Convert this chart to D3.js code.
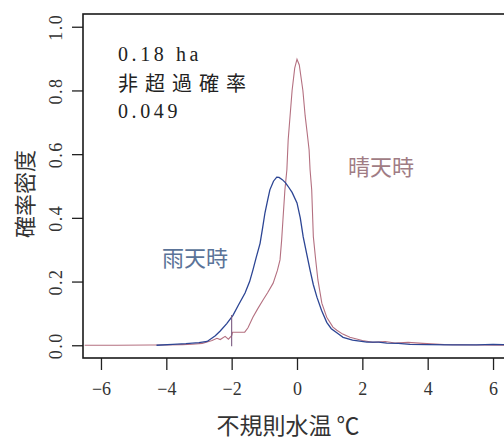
<!DOCTYPE html>
<meta charset="utf-8">
<script src="https://d3js.org/d3.v7.min.js"></script>
<style>
  body { margin: 0; background: #fff; }
  text { font-family: "Liberation Serif", "Noto Sans CJK JP", serif; }
  .cjk { font-family: "Noto Sans CJK JP", sans-serif; }
</style>
<div id="my_dataviz"></div>
<script>

// clear-weather (晴天時) density curve
var clearX = [-6.5, -5.5, -4.5, -4.0, -3.5, -3.2, -2.9, -2.75, -2.6, -2.45, -2.35, -2.2, -2.1, -2.0, -1.97, -1.8, -1.6,
  -1.5, -1.35, -1.2, -1.04, -0.9, -0.73, -0.6, -0.52, -0.47, -0.43, -0.37, -0.31, -0.27, -0.15, -0.07, 0,
  0.07, 0.18, 0.25, 0.31, 0.37, 0.40, 0.45, 0.50, 0.57, 0.64, 0.76, 0.91, 1.1, 1.22, 1.4, 1.62, 2.0, 2.32,
  2.7, 3.0, 3.4, 3.85, 4.5, 5.5, 6.6];
var clearY = [0.0, 0.0, 0.001, 0.001, 0.002, 0.003, 0.006, 0.01, 0.015, 0.022, 0.018, 0.028, 0.019, 0.03, 0.041, 0.041, 0.041,
  0.055, 0.088, 0.115, 0.142, 0.165, 0.195, 0.235, 0.268, 0.33, 0.394, 0.488, 0.551, 0.645, 0.80, 0.87, 0.898,
  0.88, 0.80, 0.72, 0.668, 0.614, 0.551, 0.488, 0.341, 0.27, 0.205, 0.132, 0.088, 0.057, 0.047, 0.035, 0.025, 0.015, 0.009,
  0.012, 0.007, 0.009, 0.006, 0.002, 0.001, 0.0];

// rainy-weather (雨天時) density curve
var rainX = [-4.3, -3.8, -3.4, -3.0, -2.75, -2.5, -2.35, -2.15, -1.96, -1.8, -1.59, -1.45, -1.35, -1.25, -1.13,
  -1.05, -0.98, -0.9, -0.83, -0.72, -0.62, -0.55, -0.45, -0.35, -0.28, -0.15, 0, 0.1, 0.19, 0.3, 0.4, 0.5,
  0.61, 0.75, 0.91, 1.05, 1.26, 1.41, 1.7, 2.14, 2.5, 2.75, 3.1, 3.46, 4.0, 4.77, 5.5, 6.0, 6.3, 6.6];
var rainY = [0.0, 0.003, 0.005, 0.008, 0.012, 0.03, 0.045, 0.068, 0.094, 0.125, 0.164, 0.2, 0.236, 0.275, 0.32,
  0.37, 0.416, 0.455, 0.488, 0.515, 0.528, 0.527, 0.52, 0.51, 0.5, 0.48, 0.447, 0.4, 0.34, 0.285, 0.236, 0.19,
  0.151, 0.11, 0.072, 0.052, 0.036, 0.025, 0.016, 0.01, 0.01, 0.007, 0.006, 0.003, 0.002, 0.001, 0.001, 0.003, 0.002, 0.002];

// vertical marker at the threshold temperature
var markerX = -2;
var markerY = [0, 0.095];

var xTicks = [-6, -4, -2, 0, 2, 4, 6];
var yTicks = [0, 0.2, 0.4, 0.6, 0.8, 1.0];

var margin = {top: 14, right: -7, bottom: 83, left: 83},
    width = 504 - margin.left - margin.right,
    height = 441 - margin.top - margin.bottom;

var root = d3.select("#my_dataviz")
  .append("svg")
    .attr("width", 504)
    .attr("height", 441);

var svg = root.append("g")
    .attr("transform", "translate(" + margin.left + "," + margin.top + ")");

var x = d3.scaleLinear().domain([-6.55, 6.55]).range([0, width]);
var y = d3.scaleLinear().domain([-0.04, 1.04]).range([height, 0]);

svg.append("clipPath").attr("id", "clip")
  .append("rect").attr("width", width).attr("height", height);

// X axis
var xAxis = svg.append("g")
  .attr("transform", "translate(0," + height + ")")
  .call(d3.axisBottom(x).tickValues(xTicks).tickSize(12).tickPadding(12)
    .tickFormat(function(d) { return d < 0 ? "\u2212" + (-d) : d; }));
xAxis.attr("font-family", "Liberation Serif");
xAxis.select(".domain").remove();
xAxis.selectAll("line").attr("stroke", "#222").attr("stroke-width", 1.3);
xAxis.selectAll("text").attr("font-size", 18).attr("fill", "#333")
  .style("font-family", "'Liberation Serif', serif");

// Y axis, labels rotated like R
var yAxis = svg.append("g")
  .call(d3.axisLeft(y).tickValues(yTicks).tickSize(11).tickFormat(d3.format(".1f")));
yAxis.attr("font-family", "Liberation Serif");
yAxis.select(".domain").remove();
yAxis.selectAll("line").attr("stroke", "#222").attr("stroke-width", 1.3);
yAxis.selectAll("text")
  .attr("transform", "rotate(-90)")
  .attr("text-anchor", "middle")
  .attr("x", 0).attr("y", -21).attr("dy", 0)
  .attr("font-size", 18).attr("fill", "#333")
  .attr("letter-spacing", 1.5)
  .style("font-family", "'Liberation Serif', serif");

// box
svg.append("rect")
  .attr("width", width).attr("height", height)
  .attr("fill", "none").attr("stroke", "#1a1a1a").attr("stroke-width", 1.6);

var plot = svg.append("g").attr("clip-path", "url(#clip)");

var line = d3.line()
  .x(function(d) { return x(d[0]); })
  .y(function(d) { return y(d[1]); });

plot.append("path")
  .datum(d3.zip(clearX, clearY))
  .attr("fill", "none")
  .attr("stroke", "#b47080")
  .attr("stroke-width", 1.1)
  .attr("d", line);

plot.append("path")
  .datum(d3.zip(rainX, rainY))
  .attr("fill", "none")
  .attr("stroke", "#2c4594")
  .attr("stroke-width", 1.3)
  .attr("d", line);

plot.append("line")
  .attr("x1", x(markerX)).attr("x2", x(markerX))
  .attr("y1", y(markerY[0]) + 1).attr("y2", y(markerY[1]))
  .attr("stroke", "#7a5a80").attr("stroke-width", 1.1);

// annotation block
svg.append("text")
  .attr("x", 118 - margin.left).attr("y", 61 - margin.top)
  .attr("font-size", 20).attr("letter-spacing", 3.6).attr("fill", "#222")
  .text("0.18 ha");
svg.append("text")
  .attr("class", "cjk")
  .attr("x", 118 - margin.left).attr("y", 91 - margin.top)
  .attr("font-size", 20).attr("letter-spacing", 7).attr("fill", "#222")
  .text("非超過確率");
svg.append("text")
  .attr("x", 118 - margin.left).attr("y", 118 - margin.top)
  .attr("font-size", 20).attr("letter-spacing", 3.6).attr("fill", "#222")
  .text("0.049");

// curve labels
svg.append("text")
  .attr("class", "cjk")
  .attr("x", 348 - margin.left).attr("y", 175 - margin.top)
  .attr("font-size", 22).attr("fill", "#a07c84")
  .text("晴天時");
svg.append("text")
  .attr("class", "cjk")
  .attr("x", 162 - margin.left).attr("y", 266 - margin.top)
  .attr("font-size", 22).attr("fill", "#5a7398")
  .text("雨天時");

// axis titles
root.append("text")
  .attr("class", "cjk")
  .attr("transform", "translate(33,194) rotate(-90)")
  .attr("text-anchor", "middle")
  .attr("font-size", 22).attr("fill", "#333")
  .text("確率密度");

root.append("text")
  .attr("class", "cjk")
  .attr("x", 288).attr("y", 434)
  .attr("text-anchor", "middle")
  .attr("font-size", 23).attr("fill", "#333")
  .text("不規則水温 ℃");

</script>
